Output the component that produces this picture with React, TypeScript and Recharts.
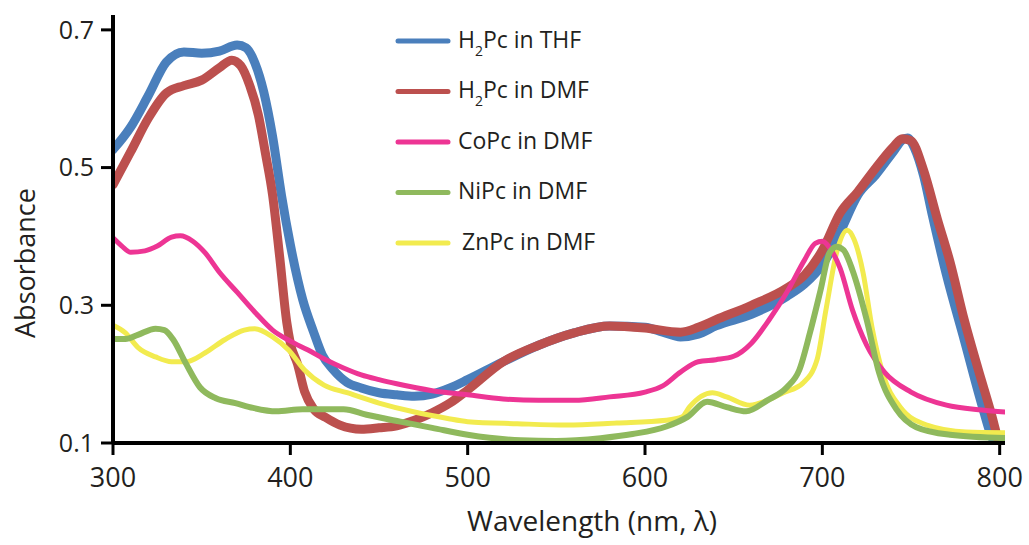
import React from 'react';
import { LineChart, Line, XAxis, YAxis, Legend, Label } from 'recharts';

// wavelength ticks (nm) and absorbance ticks
const wlTicks = [300, 400, 500, 600, 700, 800];
const absTicks = [0.1, 0.3, 0.5, 0.7];

// H2Pc in THF
const thfNm = [300, 310, 320, 330, 340, 350, 360, 370, 375, 380, 385, 390, 395, 400, 407, 413, 418, 424, 432, 440, 450, 460, 470, 480, 490, 500, 520, 540, 560, 580, 600, 610, 620, 630, 640, 660, 680, 690, 700, 705, 710, 720, 730, 740, 745, 748, 752, 757, 762, 770, 780, 790, 795, 800];
const thfAbs = [0.526, 0.559, 0.605, 0.653, 0.668, 0.666, 0.669, 0.678, 0.674, 0.652, 0.610, 0.545, 0.460, 0.388, 0.308, 0.262, 0.228, 0.207, 0.188, 0.180, 0.173, 0.170, 0.168, 0.171, 0.180, 0.192, 0.218, 0.242, 0.260, 0.270, 0.268, 0.261, 0.254, 0.258, 0.270, 0.287, 0.313, 0.331, 0.359, 0.380, 0.406, 0.460, 0.489, 0.523, 0.540, 0.543, 0.528, 0.489, 0.431, 0.344, 0.250, 0.155, 0.112, 0.090];

// H2Pc in DMF
const dmfNm = [300, 310, 320, 330, 340, 350, 360, 367, 372, 377, 382, 386, 390, 394, 398, 400, 404, 408, 413, 420, 428, 440, 450, 460, 470, 480, 490, 500, 520, 540, 560, 580, 600, 620, 630, 640, 660, 680, 690, 700, 710, 720, 730, 740, 745, 750, 757, 765, 772, 780, 788, 795, 800, 803];
const dmfAbs = [0.475, 0.523, 0.572, 0.608, 0.619, 0.627, 0.645, 0.656, 0.648, 0.620, 0.576, 0.520, 0.460, 0.370, 0.275, 0.245, 0.215, 0.175, 0.150, 0.137, 0.126, 0.120, 0.122, 0.125, 0.133, 0.144, 0.158, 0.177, 0.218, 0.242, 0.260, 0.270, 0.267, 0.261, 0.268, 0.279, 0.300, 0.325, 0.344, 0.380, 0.434, 0.465, 0.499, 0.530, 0.542, 0.539, 0.497, 0.424, 0.363, 0.279, 0.206, 0.145, 0.097, 0.075];

// CoPc in DMF
const coNm = [300, 305, 310, 318, 325, 333, 338, 345, 352, 360, 370, 380, 390, 400, 410, 420, 430, 440, 450, 460, 480, 500, 520, 540, 560, 580, 600, 610, 620, 630, 640, 650, 660, 670, 680, 690, 696, 700, 705, 710, 717, 725, 735, 750, 770, 790, 803];
const coAbs = [0.398, 0.386, 0.377, 0.379, 0.386, 0.399, 0.401, 0.393, 0.376, 0.348, 0.319, 0.290, 0.264, 0.248, 0.235, 0.221, 0.209, 0.199, 0.192, 0.186, 0.176, 0.170, 0.164, 0.162, 0.162, 0.167, 0.174, 0.183, 0.203, 0.218, 0.221, 0.226, 0.245, 0.279, 0.319, 0.366, 0.390, 0.393, 0.380, 0.354, 0.293, 0.242, 0.203, 0.174, 0.155, 0.148, 0.145];

// NiPc in DMF
const niNm = [300, 307, 314, 324, 329, 334, 341, 349, 358, 369, 379, 392, 407, 430, 443, 462, 480, 500, 530, 550, 575, 593, 612, 624, 635, 646, 657, 669, 680, 687, 693, 699, 704, 708, 712, 717, 725, 732, 742, 753, 772, 804];
const niAbs = [0.251, 0.251, 0.257, 0.266, 0.264, 0.250, 0.216, 0.181, 0.165, 0.158, 0.151, 0.146, 0.149, 0.149, 0.141, 0.131, 0.122, 0.112, 0.104, 0.103, 0.107, 0.113, 0.124, 0.138, 0.160, 0.152, 0.146, 0.162, 0.181, 0.206, 0.260, 0.322, 0.376, 0.385, 0.380, 0.351, 0.279, 0.202, 0.148, 0.123, 0.112, 0.107];

// ZnPc in DMF
const znNm = [300, 307, 314, 324, 333, 341, 352, 363, 374, 380, 390, 399, 408, 419, 432, 450, 470, 488, 500, 528, 556, 584, 612, 621, 625, 638, 646, 659, 669, 678, 689, 697, 702, 708, 714, 718, 723, 728, 734, 744, 759, 781, 804];
const znAbs = [0.271, 0.260, 0.239, 0.225, 0.218, 0.218, 0.231, 0.250, 0.264, 0.266, 0.254, 0.235, 0.206, 0.184, 0.173, 0.158, 0.145, 0.136, 0.131, 0.128, 0.126, 0.129, 0.133, 0.138, 0.152, 0.173, 0.167, 0.155, 0.162, 0.173, 0.187, 0.221, 0.293, 0.376, 0.409, 0.395, 0.347, 0.268, 0.202, 0.152, 0.126, 0.116, 0.115];

const toPoints = (nm: number[], abs: number[]) => nm.map((x, i) => ({ x, y: abs[i] }));

const series = [
  { key: 'thf', sub: '2', head: 'H', tail: 'Pc in THF', color: '#4a7fbc', width: 9, data: toPoints(thfNm, thfAbs) },
  { key: 'dmf', sub: '2', head: 'H', tail: 'Pc in DMF', color: '#bc504e', width: 9, data: toPoints(dmfNm, dmfAbs) },
  { key: 'co', sub: '', head: '', tail: 'CoPc in DMF', color: '#ed3594', width: 5, data: toPoints(coNm, coAbs) },
  { key: 'ni', sub: '', head: '', tail: 'NiPc in DMF', color: '#8fb95d', width: 6, data: toPoints(niNm, niAbs) },
  { key: 'zn', sub: '', head: '', tail: 'ZnPc in DMF', color: '#f2eb4f', width: 5, data: toPoints(znNm, znAbs) },
];

// draw order: blue, red, yellow, pink, green
const drawOrder = ['thf', 'dmf', 'zn', 'co', 'ni'];

const LegendBox = () => (
  <svg width={260} height={250} style={{ display: 'block' }}>
    {series.map((s, i) => {
      const y = 21 + i * 50.5;
      return (
        <g key={s.key}>
          <line x1={8} x2={58} y1={y} y2={y} stroke={s.color} strokeWidth={5} strokeLinecap="round" />
          <text x={s.key === 'zn' ? 72 : 68} y={y + 6.5} fontSize={23} fill="#231f20">
            {s.head ? (
              <>
                <tspan>{s.head}</tspan>
                <tspan dy={8} fontSize={14}>{s.sub}</tspan>
                <tspan dy={-8}>{s.tail}</tspan>
              </>
            ) : (
              s.tail
            )}
          </text>
        </g>
      );
    })}
  </svg>
);

const XTitle = () => (
  <text x={592} y={531} textAnchor="middle" fontSize={28} fill="#231f20">
    Wavelength (nm, λ)
  </text>
);

const YTitle = () => (
  <text x={35} y={263} textAnchor="middle" fontSize={27} fill="#231f20" transform="rotate(-90, 35, 263)">
    Absorbance
  </text>
);

export default function App() {
  return (
    <div style={{ position: 'absolute', left: 0, top: 0, width: 1029, height: 545, background: '#fff', fontFamily: '"Open Sans", sans-serif' }}>
      <LineChart width={1029} height={545} margin={{ top: 15, right: 24, bottom: 0, left: 0 }}>
        <XAxis
          type="number"
          dataKey="x"
          domain={[300, 803]}
          ticks={wlTicks}
          allowDataOverflow
          height={102}
          stroke="#000"
          strokeWidth={4}
          tickSize={12}
          tickMargin={13}
          tickLine={{ stroke: '#000', strokeWidth: 3 }}
          tick={{ fontSize: 27, fill: '#231f20' }}
        >
          <Label content={<XTitle />} />
        </XAxis>
        <YAxis
          type="number"
          dataKey="y"
          domain={[0.1, 0.7216]}
          ticks={absTicks}
          allowDataOverflow
          width={113}
          stroke="#000"
          strokeWidth={4}
          tickSize={12}
          tickMargin={7}
          tickLine={{ stroke: '#000', strokeWidth: 3 }}
          tick={{ fontSize: 25, fill: '#231f20' }}
          tickFormatter={(v: number) => v.toFixed(1)}
        >
          <Label content={<YTitle />} />
        </YAxis>
        <Legend
          layout="vertical"
          align="center"
          verticalAlign="middle"
          content={() => <LegendBox />}
          wrapperStyle={{ position: 'absolute', left: 390, top: 20, width: 260, height: 250 }}
        />
        {drawOrder.map((k) => {
          const s = series.find((d) => d.key === k)!;
          return (
            <Line
              key={s.key}
              data={s.data}
              dataKey="y"
              type="monotone"
              stroke={s.color}
              strokeWidth={s.width}
              strokeLinecap="round"
              strokeLinejoin="round"
              dot={false}
              activeDot={false}
              isAnimationActive={false}
            />
          );
        })}
      </LineChart>
    </div>
  );
}
